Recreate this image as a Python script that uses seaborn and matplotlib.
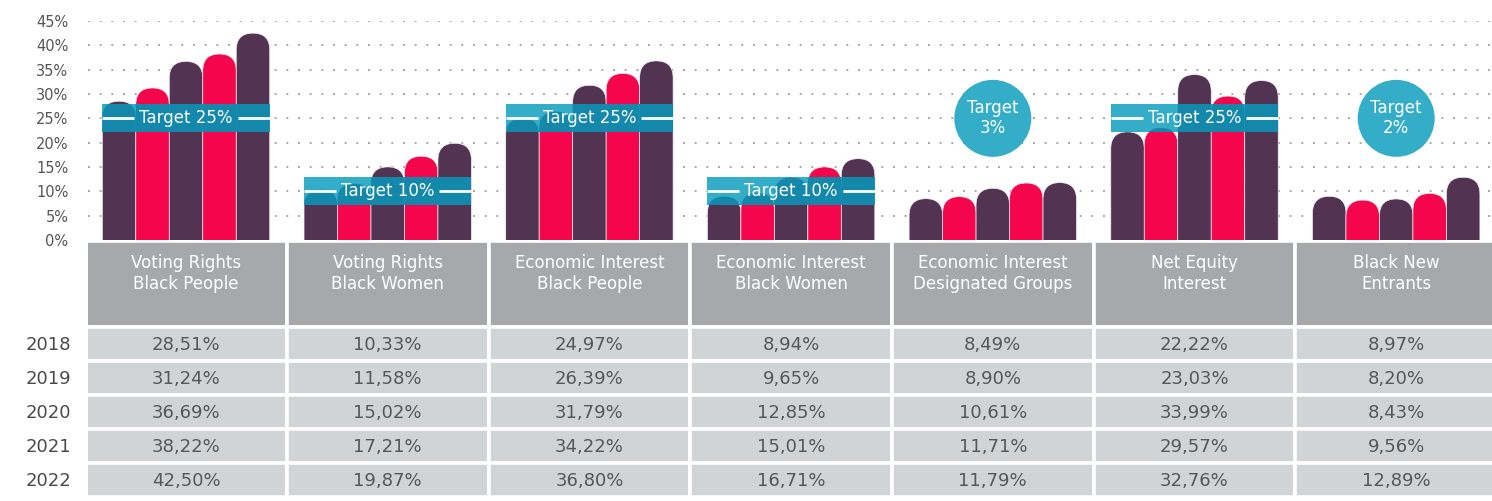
import numpy as np
import pandas as pd
import matplotlib.pyplot as plt
import seaborn as sns
from matplotlib.patches import FancyBboxPatch, Rectangle, Ellipse

#%% data
categorias = ["Voting Rights\nBlack People", "Voting Rights\nBlack Women",
              "Economic Interest\nBlack People", "Economic Interest\nBlack Women",
              "Economic Interest\nDesignated Groups", "Net Equity\nInterest",
              "Black New\nEntrants"]
anios = ["2018", "2019", "2020", "2021", "2022"]
v2018 = [28.51, 10.33, 24.97, 8.94, 8.49, 22.22, 8.97]
v2019 = [31.24, 11.58, 26.39, 9.65, 8.90, 23.03, 8.20]
v2020 = [36.69, 15.02, 31.79, 12.85, 10.61, 33.99, 8.43]
v2021 = [38.22, 17.21, 34.22, 15.01, 11.71, 29.57, 9.56]
v2022 = [42.50, 19.87, 36.80, 16.71, 11.79, 32.76, 12.89]
targets = [25, 10, 25, 10, 3, 25, 2]
target_tipo = ["band", "band", "band", "band", "circle", "band", "circle"]

valores = [v2018, v2019, v2020, v2021, v2022]
df = pd.DataFrame([(c, a, v[i]) for a, v in zip(anios, valores)
                   for i, c in enumerate(categorias)],
                  columns=["categoria", "anio", "valor"])

#%% estilo
purple = "#523452"
pink = "#f5054c"
teal_light = "#33adc8"
teal_dark = "#1186a8"
colores = [purple, pink, purple, pink, purple]

sns.set_style("white")
plt.rcParams["font.family"] = ["DejaVu Sans"]

W, H = 1492, 501
fig = plt.figure(figsize=(W / 100, H / 100), dpi=100)
ax = fig.add_axes([88 / W, 1 - 240 / H, 1 - 88 / W, 219 / H])
ax_t = fig.add_axes([88 / W, 0, 1 - 88 / W, 1 - 241 / H])

ancho = 0.83
sns.barplot(data=df, x="categoria", y="valor", hue="anio", palette=colores,
            width=ancho, dodge=True, legend=False, saturation=1, ax=ax, zorder=2)

xmin, xmax = -0.486, 6.475
ax.set_xlim(xmin, xmax)
ax.set_ylim(0, 45)
ax.set_yticks(np.arange(0, 50, 5))
ax.set_yticklabels([f"{t}%" for t in range(0, 50, 5)], fontsize=10.5, color="#555555")
ax.tick_params(axis="y", length=0, pad=14)
ax.set_xticks([])
ax.set_xlabel("")
ax.set_ylabel("")
sns.despine(ax=ax, left=True, bottom=True)
for yg in range(5, 50, 5):
    ax.axhline(yg, linestyle=(0, (1, 5)), color="#a8a8a8", linewidth=1.4, zorder=0)

# unidades por pixel
x_px = (xmax - xmin) / (ax.get_position().width * W)
y_px = 45 / (ax.get_position().height * H)
aspecto = y_px / x_px

# barras redondeadas
barras = []
for p in list(ax.patches):
    x0, w, h = p.get_x(), p.get_width(), p.get_height()
    r = w / 2
    ry = r * aspecto
    bp = FancyBboxPatch((x0, -ry), w, h + ry,
                        boxstyle=f"round,pad=0,rounding_size={r}",
                        mutation_aspect=aspecto, facecolor=p.get_facecolor(),
                        edgecolor="#f4eef4", linewidth=0.5, zorder=2)
    p.set_visible(False)
    ax.add_patch(bp)
    barras.append(bp)

# targets
media = 2.85
for i, (t, tipo) in enumerate(zip(targets, target_tipo)):
    if tipo == "band":
        x0 = i - ancho / 2
        ax.add_patch(Rectangle((x0, t - media), ancho, 2 * media,
                               facecolor=teal_light, edgecolor="none", zorder=3))
        for bp in barras:
            rr = Rectangle((x0, t - media), ancho, 2 * media,
                           facecolor=teal_dark, edgecolor="none", alpha=0.93, zorder=4)
            ax.add_patch(rr)
            rr.set_clip_path(bp)
        txt = ax.text(i, t, f"Target {t}%", ha="center", va="center",
                      color="white", fontsize=12, zorder=6)
        fig.canvas.draw()
        bb = txt.get_window_extent(fig.canvas.get_renderer())
        inv = ax.transData.inverted()
        tx0 = inv.transform((bb.x0, 0))[0] - 5 * x_px
        tx1 = inv.transform((bb.x1, 0))[0] + 5 * x_px
        ax.plot([x0, tx0], [t, t], color="white", lw=2, zorder=5,
                solid_capstyle="butt")
        ax.plot([tx1, x0 + ancho], [t, t], color="white", lw=2, zorder=5,
                solid_capstyle="butt")
    else:
        d = 77
        ax.add_patch(Ellipse((i, 25), d * x_px, d * y_px, facecolor=teal_light,
                             edgecolor="none", zorder=3))
        ax.text(i, 25, f"Target\n{t}%", ha="center", va="center",
                color="white", fontsize=12, linespacing=1.15, zorder=6)

#%% tabla
alto_h = 86 / 34
ax_t.set_xlim(xmin, xmax)
ax_t.set_ylim(260 / 34, 0)
ax_t.axis("off")
pos = np.arange(len(categorias))
ax_t.bar(pos, alto_h, bottom=0, width=1, color="#a7a8ac",
         edgecolor="white", linewidth=2.6)
for j, c in enumerate(categorias):
    ax_t.text(j, 0.38, c, ha="center", va="top", color="white",
              fontsize=12, linespacing=1.25)
for r, (a, v) in enumerate(zip(anios, valores)):
    y0 = alto_h + r
    ax_t.bar(pos, 1, bottom=y0, width=1, color="#d1d4d5",
             edgecolor="white", linewidth=2.6)
    for j, val in enumerate(v):
        ax_t.text(j, y0 + 0.52, f"{val:.2f}".replace(".", ",") + "%",
                  ha="center", va="center", color="#555759", fontsize=13)
    ax_t.text(-0.012, y0 + 0.52, a, transform=ax_t.get_yaxis_transform(),
              ha="right", va="center", color="#4a4a4a", fontsize=13)

plt.savefig("out.png", dpi=100)
